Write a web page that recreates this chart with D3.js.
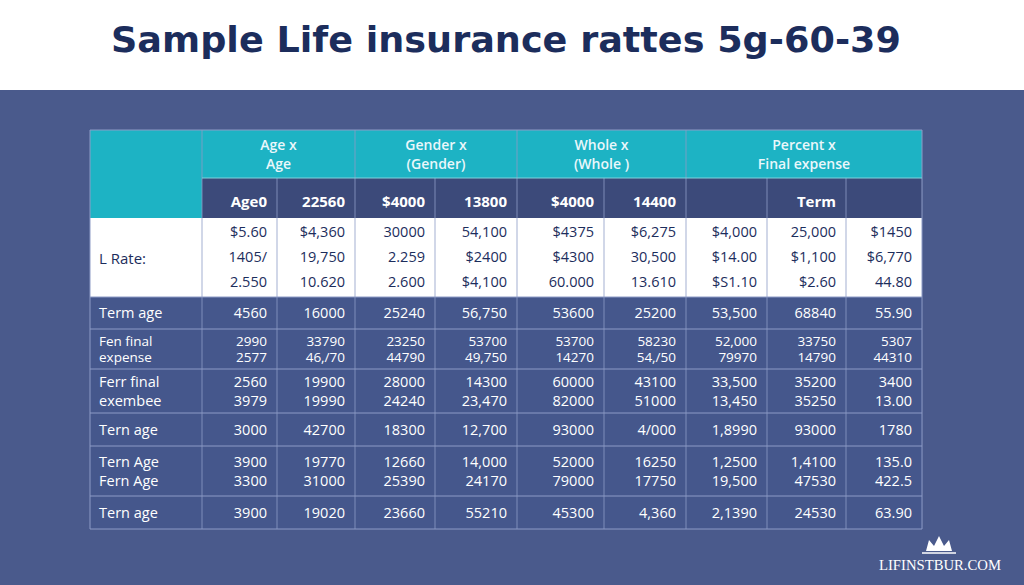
<!DOCTYPE html>
<html>
<head>
<meta charset="utf-8">
<script src="https://cdn.jsdelivr.net/npm/d3@7"></script>
<style>
  body { margin: 0; background: #4a5a8c; }
  svg { display: block; }
</style>
</head>
<body>
<svg id="chart"></svg>
<script>
var title = "Sample Life insurance rattes 5g-60-39";

var groupHeaders = [["Age x", "Age"], ["Gender x", "(Gender)"], ["Whole x", "(Whole )"], ["Percent x", "Final expense"]];
var subHeaders = ["Age0", "22560", "$4000", "13800", "$4000", "14400", "", "Term", ""];

var rateLabel = "L Rate:";
var rateRows = [
  ["$5.60", "$4,360", "30000", "54,100", "$4375", "$6,275", "$4,000", "25,000", "$1450"],
  ["1405/", "19,750", "2.259", "$2400", "$4300", "30,500", "$14.00", "$1,100", "$6,770"],
  ["2.550", "10.620", "2.600", "$4,100", "60.000", "13.610", "$S1.10", "$2.60", "44.80"]
];

var rowLabels = [["Term age"], ["Fen final", "expense"], ["Ferr final", "exembee"], ["Tern age"], ["Tern Age", "Fern Age"], ["Tern age"]];
var rowValues = [
  [["4560", "16000", "25240", "56,750", "53600", "25200", "53,500", "68840", "55.90"]],
  [["2990", "33790", "23250", "53700", "53700", "58230", "52,000", "33750", "5307"],
   ["2577", "46,/70", "44790", "49,750", "14270", "54,/50", "79970", "14790", "44310"]],
  [["2560", "19900", "28000", "14300", "60000", "43100", "33,500", "35200", "3400"],
   ["3979", "19990", "24240", "23,470", "82000", "51000", "13,450", "35250", "13.00"]],
  [["3000", "42700", "18300", "12,700", "93000", "4/000", "1,8990", "93000", "1780"]],
  [["3900", "19770", "12660", "14,000", "52000", "16250", "1,2500", "1,4100", "135.0"],
   ["3300", "31000", "25390", "24170", "79000", "17750", "19,500", "47530", "422.5"]],
  [["3900", "19020", "23660", "55210", "45300", "4,360", "2,1390", "24530", "63.90"]]
];

// layout
var W = 1024, H = 585;
var colEdges = [90, 202, 277, 355, 435, 517, 604, 686, 767, 846, 922];
var rowEdges = [297, 329, 369, 413, 446, 496, 529];
var teal = "#1db3c4", navy = "#3c4a7a", rowFill = "#45578c", lineCol = "#8d9bc6", ink = "#1c2d5c";
var f = "Open Sans, sans-serif";

var svg = d3.select("#chart").attr("width", W).attr("height", H);

svg.append("rect").attr("width", W).attr("height", 90).attr("fill", "#ffffff");
svg.append("text").attr("x", 506).attr("y", 52).attr("text-anchor", "middle")
  .attr("font-family", "DejaVu Sans, sans-serif").attr("font-weight", 700).attr("font-size", 35)
  .attr("textLength", 790).attr("lengthAdjust", "spacingAndGlyphs")
  .attr("fill", ink).text(title);

// header 1
svg.append("rect").attr("x", 90).attr("y", 130).attr("width", 832).attr("height", 88).attr("fill", teal);
svg.append("rect").attr("x", colEdges[1]).attr("y", 178).attr("width", 922 - colEdges[1]).attr("height", 40).attr("fill", navy);
groupHeaders.forEach(function(g, i) {
  var x0 = colEdges[1 + i * 2], x1 = i < 3 ? colEdges[3 + i * 2] : colEdges[10];
  g.forEach(function(line, j) {
    svg.append("text").attr("x", (x0 + x1) / 2).attr("y", 150 + j * 19).attr("text-anchor", "middle")
      .attr("font-family", f).attr("font-weight", 600).attr("font-size", 14).attr("fill", "#eaf7fb").text(line);
  });
});
subHeaders.forEach(function(s, i) {
  svg.append("text").attr("x", colEdges[i + 2] - 10).attr("y", 207).attr("text-anchor", "end")
    .attr("font-family", f).attr("font-weight", 700).attr("font-size", 15).attr("fill", "#ffffff").text(s);
});

// white block
svg.append("rect").attr("x", 90).attr("y", 218).attr("width", 832).attr("height", 79).attr("fill", "#ffffff");
svg.append("text").attr("x", 99).attr("y", 264).attr("font-family", f).attr("font-size", 15).attr("fill", ink).text(rateLabel);
rateRows.forEach(function(r, j) {
  r.forEach(function(v, i) {
    svg.append("text").attr("x", colEdges[i + 2] - 10).attr("y", 237 + j * 25).attr("text-anchor", "end")
      .attr("font-family", f).attr("font-size", 14.5).attr("fill", ink).text(v);
  });
});

// dark rows
rowValues.forEach(function(lines, k) {
  var y0 = rowEdges[k], y1 = rowEdges[k + 1], mid = (y0 + y1) / 2;
  svg.append("rect").attr("x", 90).attr("y", y0).attr("width", 832).attr("height", y1 - y0).attr("fill", rowFill);
  var two = lines.length > 1;
  var gap = two ? (y1 - y0 > 40 ? 19 : 16) : 0;
  var fs = two && gap < 19 ? 13.5 : 14.5;
  var offs = two ? [-gap / 2, gap / 2] : [0];
  rowLabels[k].forEach(function(l, j) {
    svg.append("text").attr("x", 99).attr("y", mid + offs[j] + 5).attr("font-family", f).attr("font-size", fs)
      .attr("fill", "#ffffff").text(l);
  });
  lines.forEach(function(r, j) {
    r.forEach(function(v, i) {
      svg.append("text").attr("x", colEdges[i + 2] - 10).attr("y", mid + offs[j] + 5).attr("text-anchor", "end")
        .attr("font-family", f).attr("font-size", fs).attr("fill", "#ffffff").text(v);
    });
  });
});

// grid lines
rowEdges.forEach(function(y) {
  svg.append("line").attr("x1", 90).attr("x2", 922).attr("y1", y).attr("y2", y).attr("stroke", lineCol).attr("stroke-width", 1);
});
colEdges.forEach(function(x, i) {
  if (i === 0 || i === 10) {
    svg.append("line").attr("x1", x).attr("x2", x).attr("y1", 130).attr("y2", 529).attr("stroke", lineCol);
  } else {
    var top = [1, 3, 5, 7].indexOf(i) >= 0 ? 130 : 178;
    svg.append("line").attr("x1", x).attr("x2", x).attr("y1", top).attr("y2", 529).attr("stroke", lineCol).attr("stroke-opacity", 0.8);
  }
});
svg.append("line").attr("x1", 90).attr("x2", 922).attr("y1", 130).attr("y2", 130).attr("stroke", lineCol);
svg.append("line").attr("x1", colEdges[1]).attr("x2", 922).attr("y1", 178).attr("y2", 178).attr("stroke", "#7fd3de");

// watermark
svg.append("path").attr("d", "M926,551 L929,540 L934,546 L939,536 L944,546 L949,540 L952,551 Z").attr("fill", "#ffffff");
svg.append("line").attr("x1", 922).attr("x2", 956).attr("y1", 553).attr("y2", 553).attr("stroke", "#ffffff").attr("stroke-width", 1.5);
svg.append("text").attr("x", 940).attr("y", 570).attr("text-anchor", "middle").attr("font-family", "Liberation Serif, serif")
  .attr("font-size", 15).attr("textLength", 122).attr("lengthAdjust", "spacingAndGlyphs").attr("fill", "#ffffff").text("LIFINSTBUR.COM");
</script>
</body>
</html>
